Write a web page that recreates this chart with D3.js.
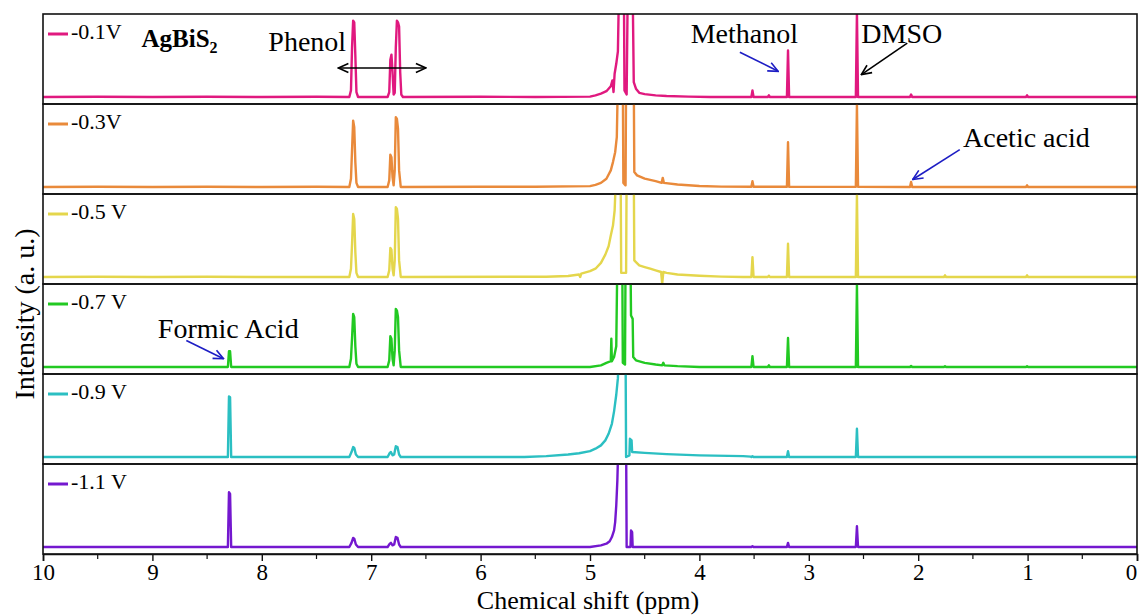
<!DOCTYPE html>
<html>
<head>
<meta charset="utf-8">
<script src="https://cdn.jsdelivr.net/npm/d3@7/dist/d3.min.js"></script>
<style>
  body { margin: 0; background: #fff; }
  svg { display: block; }
  text { font-family: "Liberation Serif", "Times New Roman", serif; fill: #000; }
</style>
</head>
<body>
<svg id="chart" width="1139" height="615"></svg>
<script>
// 1H NMR spectra of the electrolyte after CO2 reduction on AgBiS2 at different potentials.
// Each spectrum is a list of [chemical shift (ppm), relative intensity] points;
// intensity 1 = full height of its panel.

const xTicks = [10, 9, 8, 7, 6, 5, 4, 3, 2, 1, 0];
const potentials = ["-0.1V", "-0.3V", "-0.5 V", "-0.7 V", "-0.9 V", "-1.1 V"];
const colors = ["#e0197f", "#e98a3b", "#e4d64c", "#22c922", "#2bbfc2", "#7418cf"];

const spec01 = [
  [10, 0], [9.5, 0.003], [9, 0], [8.5, 0.003], [8, 0], [7.5, 0.003],
  [7.2, 0], [7.185, 0.08], [7.175, 0.6], [7.165, 0.92], [7.155, 0.9], [7.145, 0.5], [7.135, 0.06], [7.12, 0],
  [6.85, 0], [6.835, 0.06], [6.825, 0.45], [6.815, 0.51], [6.805, 0.3], [6.795, 0.03],
  [6.785, 0.05], [6.775, 0.6], [6.765, 0.92], [6.755, 0.9], [6.745, 0.85], [6.735, 0.3], [6.725, 0.03], [6.71, 0],
  [6, 0.003], [5.5, 0], [5, 0.005], [4.95, 0.02], [4.9, 0.04], [4.85, 0.07], [4.81, 0.13], [4.795, 0.2],
  [4.785, 0.06], [4.775, 0.28], [4.76, 0.4], [4.745, 0.55], [4.735, 1.3], [4.69, 1.3], [4.685, 0.08],
  [4.665, 0.03], [4.655, 1.3], [4.61, 1.3], [4.6, 0.18], [4.58, 0.1], [4.55, 0.05], [4.5, 0.035],
  [4.4, 0.02], [4.3, 0.012], [4.1, 0.005], [3.9, 0],
  [3.525, 0], [3.515, 0.08], [3.505, 0], [3.375, 0], [3.365, 0.02], [3.355, 0],
  [3.2, 0], [3.19, 0.56], [3.18, 0], [2.57, 0], [2.56, 1.02], [2.55, 0],
  [2.075, 0], [2.065, 0.03], [2.055, 0], [1.015, 0], [1.005, 0.02], [0.995, 0], [0, 0]
];

const spec03 = [
  [10, 0], [9.5, 0.003], [9, 0], [8.5, 0.003], [8, 0], [7.5, 0.003],
  [7.2, 0], [7.185, 0.1], [7.175, 0.45], [7.165, 0.8], [7.155, 0.72], [7.145, 0.3], [7.135, 0.05], [7.12, 0],
  [6.85, 0], [6.835, 0.08], [6.825, 0.39], [6.815, 0.36], [6.805, 0.12], [6.795, 0.02],
  [6.785, 0.2], [6.775, 0.84], [6.765, 0.82], [6.755, 0.7], [6.745, 0.2], [6.73, 0],
  [6, 0.003], [5.5, 0.003], [5, 0.01], [4.95, 0.025], [4.9, 0.05], [4.85, 0.1], [4.81, 0.2], [4.79, 0.3],
  [4.77, 0.42], [4.755, 0.6], [4.745, 1.3], [4.7, 1.3], [4.695, 0.05], [4.675, 0.02], [4.67, 1.3],
  [4.6, 1.3], [4.595, 0.18], [4.57, 0.14], [4.5, 0.1], [4.4, 0.07], [4.345, 0.05], [4.335, 0.11],
  [4.325, 0.05], [4.2, 0.03], [4, 0.012], [3.8, 0.004],
  [3.525, 0.003], [3.515, 0.07], [3.505, 0.003], [3.2, 0.003], [3.19, 0.54], [3.18, 0.003],
  [2.57, 0.002], [2.56, 0.99], [2.55, 0.002], [2.075, 0], [2.065, 0.06], [2.055, 0],
  [1.015, 0], [1.005, 0.02], [0.995, 0], [0, 0]
];

const spec05 = [
  [10, 0], [9.5, 0.003], [9, 0], [8.5, 0.003], [8, 0],
  [7.2, 0], [7.185, 0.1], [7.175, 0.4], [7.165, 0.76], [7.155, 0.7], [7.145, 0.3], [7.135, 0.05], [7.12, 0],
  [6.85, 0], [6.835, 0.08], [6.825, 0.35], [6.815, 0.33], [6.805, 0.1], [6.795, 0.02],
  [6.785, 0.2], [6.775, 0.84], [6.765, 0.82], [6.755, 0.7], [6.745, 0.2], [6.73, 0],
  [5.4, 0.003], [5.2, 0.012], [5.1, 0.03], [5.09, 0], [5.08, 0.04], [5, 0.07], [4.95, 0.1], [4.9, 0.17],
  [4.86, 0.27], [4.83, 0.37], [4.81, 0.5], [4.79, 0.62], [4.775, 0.8], [4.76, 1.3], [4.72, 1.3],
  [4.715, 0.05], [4.67, 0.05], [4.665, 1.3], [4.6, 1.3], [4.595, 0.2], [4.58, 0.18], [4.55, 0.14],
  [4.5, 0.12], [4.45, 0.1], [4.4, 0.08], [4.35, 0.06], [4.34, -0.08], [4.33, 0.06], [4.3, 0.05],
  [4.2, 0.03], [4, 0.015], [3.8, 0.005], [3.6, 0],
  [3.525, 0], [3.515, 0.24], [3.505, 0], [3.375, 0], [3.365, 0.015], [3.355, 0],
  [3.2, 0], [3.19, 0.4], [3.18, 0], [2.57, 0], [2.56, 0.99], [2.55, 0],
  [1.765, 0], [1.755, 0.02], [1.745, 0], [1.015, 0], [1.005, 0.02], [0.995, 0], [0, 0]
];

const spec07 = [
  [10, 0], [8.31, 0], [8.3, 0.19], [8.29, 0.19], [8.28, 0],
  [7.2, 0], [7.185, 0.1], [7.175, 0.35], [7.165, 0.64], [7.155, 0.6], [7.145, 0.25], [7.135, 0.04], [7.12, 0],
  [6.85, 0], [6.835, 0.08], [6.825, 0.37], [6.815, 0.34], [6.805, 0.1], [6.795, 0.02],
  [6.785, 0.2], [6.775, 0.7], [6.765, 0.68], [6.755, 0.6], [6.745, 0.2], [6.73, 0],
  [5, 0], [4.9, 0.02], [4.85, 0.05], [4.81, 0.07], [4.805, 0.34], [4.8, 0.07], [4.78, 0.12],
  [4.76, 0.25], [4.75, 1.3], [4.705, 1.3], [4.7, 0.05], [4.68, 0.03], [4.675, 1.3], [4.63, 1.3],
  [4.625, 0.62], [4.61, 0.58], [4.605, 0.12], [4.58, 0.08], [4.5, 0.05], [4.4, 0.03],
  [4.34, 0.02], [4.33, 0.05], [4.32, 0.02], [4.2, 0.01], [4, 0],
  [3.525, 0], [3.515, 0.13], [3.505, 0], [3.375, 0], [3.365, 0.02], [3.355, 0],
  [3.2, 0], [3.19, 0.35], [3.18, 0], [2.57, 0], [2.56, 0.99], [2.55, 0],
  [2.075, 0], [2.065, 0.012], [2.055, 0], [1.765, 0], [1.755, 0.01], [1.745, 0],
  [1.015, 0], [1.005, 0.01], [0.995, 0], [0, 0]
];

const spec09 = [
  [10, 0], [8.31, 0], [8.3, 0.73], [8.29, 0.72], [8.28, 0],
  [7.2, 0], [7.18, 0.06], [7.165, 0.12], [7.155, 0.11], [7.14, 0.03], [7.12, 0],
  [6.85, 0], [6.83, 0.05], [6.82, 0.06], [6.805, 0.02], [6.79, 0.03], [6.775, 0.13], [6.76, 0.12], [6.745, 0.03], [6.73, 0],
  [5.6, 0], [5.4, 0.01], [5.2, 0.03], [5.1, 0.045], [5, 0.07], [4.95, 0.1], [4.9, 0.14], [4.86, 0.2],
  [4.83, 0.28], [4.8, 0.4], [4.78, 0.55], [4.76, 0.75], [4.745, 0.95], [4.735, 1.3], [4.675, 1.3],
  [4.67, 0], [4.64, 0.02], [4.635, 0.22], [4.62, 0.2], [4.615, 0.06], [4.5, 0.05], [4.3, 0.035],
  [4, 0.02], [3.6, 0.01], [3.53, 0.005],
  [3.525, 0], [3.515, 0.01], [3.505, 0],
  [3.2, 0], [3.19, 0.07], [3.18, 0], [2.57, 0], [2.56, 0.34], [2.55, 0], [0, 0]
];

const spec11 = [
  [10, 0], [8.31, 0], [8.3, 0.66], [8.29, 0.64], [8.28, 0],
  [7.2, 0], [7.18, 0.05], [7.165, 0.11], [7.155, 0.1], [7.14, 0.03], [7.12, 0],
  [6.85, 0], [6.83, 0.04], [6.82, 0.05], [6.805, 0.02], [6.79, 0.03], [6.775, 0.12], [6.76, 0.11], [6.745, 0.03], [6.73, 0],
  [5, 0], [4.9, 0.02], [4.85, 0.04], [4.82, 0.07], [4.8, 0.12], [4.78, 0.2], [4.77, 0.3], [4.76, 0.5],
  [4.75, 0.8], [4.74, 1.3], [4.67, 1.3], [4.665, 0], [4.63, 0], [4.625, 0.2], [4.615, 0.18], [4.61, 0],
  [3.525, 0], [3.515, 0.01], [3.505, 0],
  [3.2, 0], [3.19, 0.05], [3.18, 0], [2.57, 0], [2.56, 0.25], [2.55, 0], [0, 0]
];

const spectra = [spec01, spec03, spec05, spec07, spec09, spec11];

// Annotations: [text, ppm, intensity, panel index]
const noteLabels = [
  ["Phenol", 7.94, 0.56, 0],
  ["Methanol", 4.08, 0.65, 0],
  ["DMSO", 2.52, 0.65, 0],
  ["Acetic acid", 1.59, 0.48, 1],
  ["Formic Acid", 8.95, 0.35, 3]
];
// Pointer arrows: [ppm from, intensity from, ppm to, intensity to, panel index, colour]
const noteArrows = [
  [3.63, 0.54, 3.28, 0.31, 0, "#1d1dc4"],
  [2.10, 0.65, 2.52, 0.27, 0, "#000"],
  [1.62, 0.45, 2.05, 0.09, 1, "#1d1dc4"],
  [8.69, 0.32, 8.35, 0.10, 3, "#1d1dc4"]
];
// Double-headed span under the phenol label
const phenolSpan = [7.30, 6.50, 0.35];

const W = 1139, H = 615;
const plotL = 43, plotR = 1137, plotT = 14, plotB = 554;
const nP = spectra.length;
const panelH = (plotB - plotT) / nP;

const svg = d3.select("#chart");
svg.append("rect").attr("width", W).attr("height", H).attr("fill", "#fff");

const x = d3.scaleLinear().domain([10, 0]).range([plotL, plotR]);

const defs = svg.append("defs");
function marker(id, color) {
  defs.append("marker")
    .attr("id", id).attr("viewBox", "0 0 12 12")
    .attr("refX", 11).attr("refY", 6)
    .attr("markerWidth", 12).attr("markerHeight", 12)
    .attr("markerUnits", "userSpaceOnUse")
    .attr("orient", "auto-start-reverse")
    .append("path").attr("d", "M1,1.5 L11,6 L1,10.5")
    .attr("fill", "none").attr("stroke", color).attr("stroke-width", 1.6);
}
marker("headBlue", "#1d1dc4");
marker("headBlack", "#000");

const yScales = spectra.map((s, i) => {
  const pTop = plotT + i * panelH;
  const base = pTop + panelH - 7;
  return d3.scaleLinear().domain([0, 1]).range([base, base - 83]);
});

spectra.forEach((s, i) => {
  const pTop = plotT + i * panelH;
  const y = yScales[i];
  defs.append("clipPath").attr("id", "clip" + i)
    .append("rect").attr("x", plotL).attr("y", pTop).attr("width", plotR - plotL).attr("height", panelH);

  const line = d3.line().x(d => x(d[0])).y(d => y(d[1]));
  svg.append("path").datum(s)
    .attr("clip-path", `url(#clip${i})`)
    .attr("d", line)
    .attr("fill", "none")
    .attr("stroke", colors[i])
    .attr("stroke-width", 2.4)
    .attr("stroke-linejoin", "round");

  svg.append("rect")
    .attr("x", plotL).attr("y", pTop)
    .attr("width", plotR - plotL).attr("height", panelH)
    .attr("fill", "none").attr("stroke", "#111").attr("stroke-width", 1.6);

  // legend entry
  svg.append("line")
    .attr("x1", plotL + 5).attr("x2", plotL + 25)
    .attr("y1", pTop + 20).attr("y2", pTop + 20)
    .attr("stroke", colors[i]).attr("stroke-width", 3);
  svg.append("text")
    .attr("x", plotL + 28).attr("y", pTop + 25)
    .attr("font-size", 22)
    .text(potentials[i]);
});

// sample name
const ag = svg.append("text")
  .attr("x", x(9.10)).attr("y", yScales[0](0.60))
  .attr("font-size", 25).attr("font-weight", "bold");
ag.append("tspan").text("AgBiS");
ag.append("tspan").attr("font-size", 16).attr("dy", 6).text("2");

noteLabels.forEach(([t, p, v, k]) => {
  svg.append("text").attr("x", x(p)).attr("y", yScales[k](v))
    .attr("font-size", 28).text(t);
});

noteArrows.forEach(([p0, v0, p1, v1, k, c]) => {
  svg.append("line")
    .attr("x1", x(p0)).attr("y1", yScales[k](v0))
    .attr("x2", x(p1)).attr("y2", yScales[k](v1))
    .attr("stroke", c).attr("stroke-width", 1.6)
    .attr("marker-end", c === "#000" ? "url(#headBlack)" : "url(#headBlue)");
});

svg.append("line")
  .attr("x1", x(phenolSpan[0])).attr("x2", x(phenolSpan[1]))
  .attr("y1", yScales[0](phenolSpan[2])).attr("y2", yScales[0](phenolSpan[2]))
  .attr("stroke", "#000").attr("stroke-width", 1.6)
  .attr("marker-start", "url(#headBlack)")
  .attr("marker-end", "url(#headBlack)");

// x axis
const axis = svg.append("g").attr("transform", `translate(0,${plotB})`);
axis.call(d3.axisBottom(x).tickValues(xTicks).tickFormat(d3.format("d")).tickSize(7).tickPadding(3));
axis.select(".domain").attr("stroke", "#111").attr("stroke-width", 1.6);
axis.selectAll(".tick line").attr("stroke", "#111").attr("stroke-width", 1.4);
axis.selectAll(".tick text")
  .attr("font-family", "'Liberation Serif', 'Times New Roman', serif")
  .attr("font-size", 23).attr("fill", "#000");
// keep the last label inside the page edge
axis.selectAll(".tick text").filter(d => d === 0).attr("dx", -6);
const minor = d3.range(9.5, 0, -1);
axis.selectAll(".minor").data(minor).enter().append("line")
  .attr("x1", d => x(d)).attr("x2", d => x(d))
  .attr("y1", 0).attr("y2", 5)
  .attr("stroke", "#111").attr("stroke-width", 1.2);

svg.append("text")
  .attr("x", (plotL + plotR) / 2 - 2).attr("y", 609)
  .attr("text-anchor", "middle").attr("font-size", 26)
  .text("Chemical shift (ppm)");

svg.append("text")
  .attr("transform", `translate(34,${(plotT + plotB) / 2 + 30}) rotate(-90)`)
  .attr("text-anchor", "middle").attr("font-size", 28)
  .text("Intensity (a. u.)");
</script>
</body>
</html>
